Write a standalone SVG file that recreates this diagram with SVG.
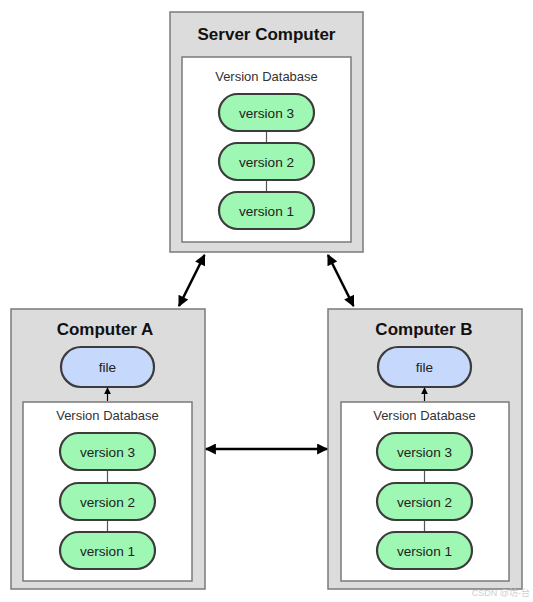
<svg xmlns="http://www.w3.org/2000/svg" width="533" height="602" viewBox="0 0 533 602">
<style>
.outer{fill:#dcdcdc;stroke:#7a7a7a;stroke-width:1.5}
.inner{fill:#fff;stroke:#7a7a7a;stroke-width:1.5}
.ver{fill:#9ef7b3;stroke:#3c3c3c;stroke-width:2.2}
.file{fill:#c6d9fc;stroke:#3c3c3c;stroke-width:2.2}
.title{font-family:"Liberation Sans",Arial,sans-serif;font-weight:bold;font-size:17px;fill:#111;text-anchor:middle}
.lbl{font-family:"Liberation Sans",Arial,sans-serif;font-size:13.6px;fill:#222;text-anchor:middle}
.db{font-family:"Liberation Sans",Arial,sans-serif;font-size:13px;fill:#333;text-anchor:middle}
.link{stroke:#555;stroke-width:1.2}
.conn{stroke:#000;stroke-width:2.5;fill:none}
</style>
<defs>
<marker id="ah" viewBox="0 0 10 10" refX="9" refY="5" markerWidth="5.2" markerHeight="4.4" orient="auto-start-reverse" markerUnits="strokeWidth">
<path d="M0,0 L10,5 L0,10 z" fill="#000"/>
</marker>
<marker id="sm" viewBox="0 0 10 10" refX="9" refY="5" markerWidth="7" markerHeight="7" orient="auto" markerUnits="userSpaceOnUse">
<path d="M0,0 L10,5 L0,10 z" fill="#000"/>
</marker>
</defs>

<g id="server">
<rect class="outer" x="170" y="12" width="193" height="240"/>
<text class="title" x="266.5" y="40">Server Computer</text>
<rect class="inner" x="182" y="57" width="169" height="185"/>
<text class="db" x="266.5" y="81">Version Database</text>
<line class="link" x1="266.5" y1="131" x2="266.5" y2="192"/>
<rect class="ver" x="219" y="94" width="95" height="37" rx="18.5"/>
<text class="lbl" x="266.5" y="117.5">version 3</text>
<rect class="ver" x="219" y="143" width="95" height="37" rx="18.5"/>
<text class="lbl" x="266.5" y="166.5">version 2</text>
<rect class="ver" x="219" y="192" width="95" height="37" rx="18.5"/>
<text class="lbl" x="266.5" y="215.5">version 1</text>
</g>

<g id="computerA">
<rect class="outer" x="11" y="309" width="194" height="280"/>
<text class="title" x="105" y="335">Computer A</text>
<rect class="file" x="61" y="347" width="93" height="40" rx="20"/>
<text class="lbl" x="107.5" y="371.5">file</text>
<rect class="inner" x="23" y="402" width="169" height="179"/>
<text class="db" x="107.5" y="420">Version Database</text>
<line class="link" x1="107.5" y1="470" x2="107.5" y2="533"/>
<rect class="ver" x="60" y="433" width="95" height="37" rx="18.5"/>
<text class="lbl" x="107.5" y="456.5">version 3</text>
<rect class="ver" x="60" y="483" width="95" height="37" rx="18.5"/>
<text class="lbl" x="107.5" y="506.5">version 2</text>
<rect class="ver" x="60" y="532" width="95" height="37" rx="18.5"/>
<text class="lbl" x="107.5" y="555.5">version 1</text>
</g>

<g id="computerB">
<rect class="outer" x="328" y="309" width="194" height="280"/>
<text class="title" x="424" y="335">Computer B</text>
<rect class="file" x="378" y="347" width="93" height="40" rx="20"/>
<text class="lbl" x="424.5" y="371.5">file</text>
<rect class="inner" x="341" y="402" width="168" height="179"/>
<text class="db" x="424.5" y="420">Version Database</text>
<line class="link" x1="424.5" y1="470" x2="424.5" y2="533"/>
<rect class="ver" x="377" y="433" width="95" height="37" rx="18.5"/>
<text class="lbl" x="424.5" y="456.5">version 3</text>
<rect class="ver" x="377" y="483" width="95" height="37" rx="18.5"/>
<text class="lbl" x="424.5" y="506.5">version 2</text>
<rect class="ver" x="377" y="532" width="95" height="37" rx="18.5"/>
<text class="lbl" x="424.5" y="555.5">version 1</text>
</g>

<g id="connectors">
<line class="conn" x1="204.5" y1="255" x2="179" y2="306" marker-start="url(#ah)" marker-end="url(#ah)"/>
<line class="conn" x1="328" y1="255" x2="353.5" y2="306" marker-start="url(#ah)" marker-end="url(#ah)"/>
<line class="conn" x1="206" y1="449" x2="327" y2="449" marker-start="url(#ah)" marker-end="url(#ah)"/>
<line stroke="#000" stroke-width="1.2" x1="107.5" y1="401" x2="107.5" y2="388" marker-end="url(#sm)"/>
<line stroke="#000" stroke-width="1.2" x1="424.5" y1="401" x2="424.5" y2="388" marker-end="url(#sm)"/>
</g>

<text x="530" y="596" font-family="'Liberation Sans','Noto Sans CJK SC',sans-serif" font-size="9" fill="#cfcfcf" text-anchor="end">CSDN @坊-台</text>
</svg>
